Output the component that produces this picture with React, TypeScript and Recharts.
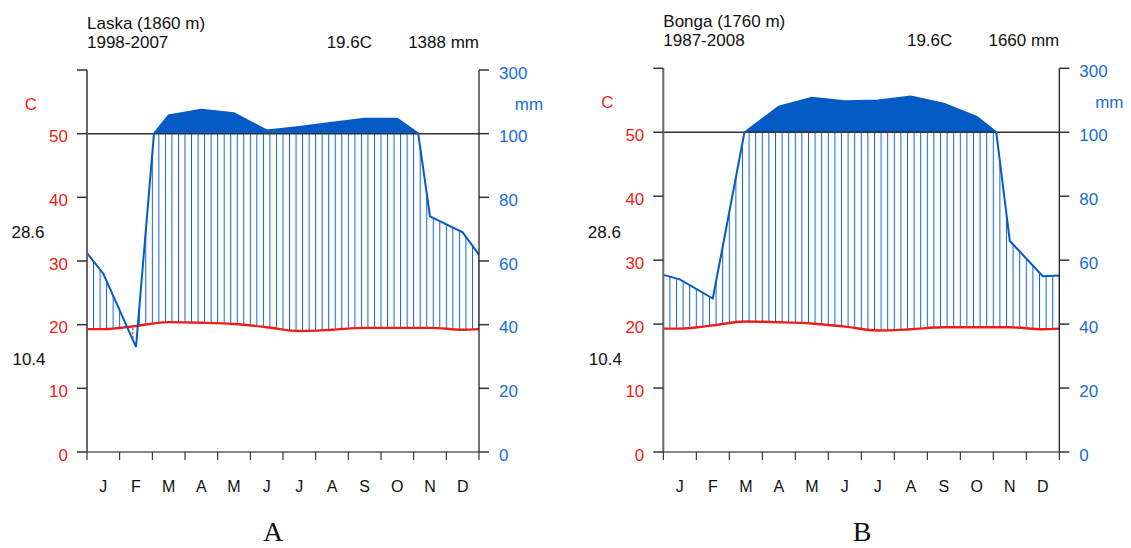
import React from 'react';
import { ComposedChart, Area, Line, XAxis, YAxis, ReferenceLine } from 'recharts';

const MONTHS = ['J', 'F', 'M', 'A', 'M', 'J', 'J', 'A', 'S', 'O', 'N', 'D'];
const MONTH_TICKS = [0, 1, 2, 3, 4, 5, 6, 7, 8, 9, 10, 11, 12];
const Y_TICKS = [0, 10, 20, 30, 40, 50, 60];
const LEFT_LABELS = ['0', '10', '20', '30', '40', '50', ''];
const RIGHT_LABELS = ['0', '20', '40', '60', '80', '100', '300'];

// Laska (1860 m), 1998-2007
const laskaTemp = [19.3, 19.8, 20.4, 20.3, 20.1, 19.6, 19.0, 19.2, 19.5, 19.5, 19.5, 19.2];
const laskaTempEdge = [19.3, 19.3]; // value drawn at the start / end of the year
const laskaRain = [56, 33, 157, 175, 164, 110, 121, 134, 147, 147, 74, 69];
const laskaRainEdge = [62.5, 62];
const laskaWetCross = [2.05, 10.14]; // month position where rain passes 100 mm
const laskaDryX = [1.24, 1.5, 1.56];
const laskaDryRain = [39.2, 33, 39.8];
const laskaDryTemp = [19.6, 19.8, 19.9];

// Bonga (1760 m), 1987-2008
const bongaTemp = [19.3, 19.8, 20.4, 20.3, 20.1, 19.6, 19.0, 19.2, 19.5, 19.5, 19.5, 19.2];
const bongaTempEdge = [19.3, 19.3];
const bongaRain = [54, 48, 102, 180, 208, 197, 199, 212, 189, 148, 66, 55];
const bongaRainEdge = [55.4, 55.2];
const bongaWetCross = [2.46, 10.09];

const RED = '#ee1d16';
const BLUE = '#055bc5';
const BLUE_TEXT = '#1a6dd6';
const FONT = '"Liberation Sans", Arial, sans-serif';

// rain in mm -> temperature scale (20 mm = 10 C, above 100 mm compressed)
const toScale = (mm: number) => (mm <= 100 ? mm / 2 : 50 + (mm - 100) / 20);

interface Plot { l: number; r: number; t: number; b: number }

interface PanelProps {
  id: string;
  left: number;
  width: number;
  plot: Plot;
  title: string;
  years: string;
  meanT: string;
  totalP: string;
  maxT: string;
  minT: string;
  letter: string;
  letterX: number;
  temp: number[];
  tempEdge: number[];
  rain: number[];
  rainEdge: number[];
  wetCross: number[];
  dryX?: number[];
  dryRain?: number[];
  dryTemp?: number[];
}

function ClimatePanel(p: PanelProps) {
  const { plot } = p;
  const plotW = plot.r - plot.l;
  const halfMonth = plotW / 24;

  const tempPoints = [
    { x: 0, t: p.tempEdge[0] },
    ...p.temp.map((t, i) => ({ x: i + 0.5, t })),
    { x: 12, t: p.tempEdge[1] },
  ];
  const rainPoints = [
    { x: 0, mm: p.rainEdge[0] },
    ...p.rain.map((mm, i) => ({ x: i + 0.5, mm })),
    ...p.wetCross.map((x) => ({ x, mm: 100 })),
    { x: 12, mm: p.rainEdge[1] },
  ].sort((a, b) => a.x - b.x);
  const dryPoints = (p.dryX || []).map((x, i) => ({
    x,
    mm: (p.dryRain || [])[i],
    t: (p.dryTemp || [])[i],
  }));

  const xAxisH = 30;
  const yW = 60;

  const MonthTick = (props: any) => {
    const { x, y, payload } = props;
    if (payload.value >= 12) return <g />;
    return (
      <text x={x + halfMonth} y={y + 24} textAnchor="middle" dominantBaseline="central"
        fill="#111" fontSize={16} fontFamily={FONT}>
        {MONTHS[payload.value]}
      </text>
    );
  };
  const LeftTick = (props: any) => {
    const { x, y, payload } = props;
    return (
      <text x={x} y={y + 3} textAnchor="end" dominantBaseline="central"
        fill={RED} fontSize={17} fontFamily={FONT}>
        {LEFT_LABELS[Y_TICKS.indexOf(payload.value)]}
      </text>
    );
  };
  const RightTick = (props: any) => {
    const { x, y, payload } = props;
    return (
      <text x={x} y={y + 3} textAnchor="start" dominantBaseline="central"
        fill={BLUE_TEXT} fontSize={17} fontFamily={FONT}>
        {RIGHT_LABELS[Y_TICKS.indexOf(payload.value)]}
      </text>
    );
  };

  return (
    <div style={{ position: 'absolute', left: p.left, top: 0, width: p.width, height: 548 }}>
      <svg width={0} height={0} style={{ position: 'absolute' }}>
        <defs>
          <pattern id={`hatch-${p.id}`} patternUnits="userSpaceOnUse" x={plot.l - 0.5} y={0}
            width={plotW / 60} height={8}>
            <rect x={0} y={0} width={1} height={8} fill="#1463c8" />
          </pattern>
          <pattern id={`dry-${p.id}`} patternUnits="userSpaceOnUse" x={plot.l - 0.5} y={0}
            width={plotW / 60} height={4}>
            <rect x={0} y={0} width={1.2} height={2.5} fill={RED} />
          </pattern>
        </defs>
      </svg>
      <ComposedChart
        width={p.width}
        height={548}
        margin={{
          top: plot.t,
          bottom: 548 - plot.b - xAxisH,
          left: plot.l - yW,
          right: p.width - plot.r - yW,
        }}
      >
        <XAxis
          dataKey="x"
          type="number"
          domain={[0, 12]}
          ticks={MONTH_TICKS}
          allowDataOverflow
          height={xAxisH}
          tickSize={8}
          tickMargin={2}
          axisLine={{ stroke: '#111', strokeWidth: 1 }}
          tickLine={{ stroke: '#111', strokeWidth: 1 }}
          tick={MonthTick}
          interval={0}
        />
        <YAxis
          yAxisId="L"
          type="number"
          domain={[0, 60]}
          ticks={Y_TICKS}
          allowDataOverflow
          width={yW}
          tickSize={10}
          tickMargin={9}
          axisLine={{ stroke: '#666', strokeWidth: 2 }}
          tickLine={{ stroke: '#333', strokeWidth: 1.5 }}
          tick={LeftTick}
          interval={0}
        />
        <YAxis
          yAxisId="R"
          orientation="right"
          type="number"
          domain={[0, 60]}
          ticks={Y_TICKS}
          allowDataOverflow
          width={yW}
          tickSize={10}
          tickMargin={10}
          axisLine={{ stroke: '#111', strokeWidth: 1.2 }}
          tickLine={{ stroke: '#333', strokeWidth: 1.5 }}
          tick={RightTick}
          interval={0}
        />
        {/* humid season hatching, up to 100 mm */}
        <Area
          yAxisId="L"
          data={rainPoints}
          dataKey={(d: any) => Math.min(toScale(d.mm), 50)}
          type="linear"
          baseValue={0}
          stroke="none"
          fill={`url(#hatch-${p.id})`}
          fillOpacity={1}
          isAnimationActive={false}
        />
        {/* clear hatching below the temperature curve */}
        <Area
          yAxisId="L"
          data={tempPoints}
          dataKey="t"
          type="monotone"
          baseValue={0}
          stroke="none"
          fill="#ffffff"
          fillOpacity={1}
          isAnimationActive={false}
        />
        {dryPoints.length > 0 && (
          <Area
            yAxisId="L"
            data={dryPoints}
            dataKey={(d: any) => [d.mm / 2, d.t]}
            type="linear"
            stroke="none"
            fill={`url(#dry-${p.id})`}
            fillOpacity={1}
            isAnimationActive={false}
          />
        )}
        {/* rain above 100 mm, solid */}
        <Area
          yAxisId="L"
          data={rainPoints}
          dataKey={(d: any) => [50, Math.max(50, toScale(d.mm))]}
          type="linear"
          stroke="none"
          fill={BLUE}
          fillOpacity={1}
          isAnimationActive={false}
        />
        <ReferenceLine yAxisId="L" y={50} stroke="#333" strokeWidth={1.5} />
        <Line
          yAxisId="L"
          data={tempPoints}
          dataKey="t"
          type="monotone"
          stroke={RED}
          strokeWidth={2.4}
          dot={false}
          isAnimationActive={false}
        />
        <Line
          yAxisId="L"
          data={rainPoints}
          dataKey={(d: any) => toScale(d.mm)}
          type="linear"
          stroke={BLUE}
          strokeWidth={2}
          dot={false}
          isAnimationActive={false}
        />
      </ComposedChart>
      <svg width={p.width} height={548}
        style={{ position: 'absolute', left: 0, top: 0, pointerEvents: 'none' }}
        fontFamily={FONT} fontSize={17}>
        <text x={plot.l} y={plot.t - 41} fill="#111">{p.title}</text>
        <text x={plot.l} y={plot.t - 22} fill="#111">{p.years}</text>
        <text x={plot.r - 107} y={plot.t - 22} fill="#111" textAnchor="end">{p.meanT}</text>
        <text x={plot.r} y={plot.t - 22} fill="#111" textAnchor="end">{p.totalP}</text>
        <text x={plot.l - 56} y={plot.t + 40} fill={RED} textAnchor="middle">C</text>
        <text x={plot.r + 50} y={plot.t + 40} fill={BLUE_TEXT} textAnchor="middle">mm</text>
        <text x={plot.l - 59} y={238} fill="#111" textAnchor="middle">{p.maxT}</text>
        <text x={plot.l - 58} y={365} fill="#111" textAnchor="middle">{p.minT}</text>
        <text x={p.letterX} y={541} fill="#111" textAnchor="middle"
          fontFamily='"Liberation Serif", "Times New Roman", serif' fontSize={28}>
          {p.letter}
        </text>
      </svg>
    </div>
  );
}

export default function App() {
  return (
    <div style={{ position: 'absolute', left: 0, top: 0, width: 1131, height: 548, background: '#fff' }}>
      <ClimatePanel
        id="a"
        left={0}
        width={565}
        plot={{ l: 87, r: 479, t: 70, b: 452 }}
        title="Laska (1860 m)"
        years="1998-2007"
        meanT="19.6C"
        totalP="1388 mm"
        maxT="28.6"
        minT="10.4"
        letter="A"
        letterX={273}
        temp={laskaTemp}
        tempEdge={laskaTempEdge}
        rain={laskaRain}
        rainEdge={laskaRainEdge}
        wetCross={laskaWetCross}
        dryX={laskaDryX}
        dryRain={laskaDryRain}
        dryTemp={laskaDryTemp}
      />
      <ClimatePanel
        id="b"
        left={565}
        width={566}
        plot={{ l: 98.3, r: 494.3, t: 68.3, b: 452 }}
        title="Bonga (1760 m)"
        years="1987-2008"
        meanT="19.6C"
        totalP="1660 mm"
        maxT="28.6"
        minT="10.4"
        letter="B"
        letterX={297}
        temp={bongaTemp}
        tempEdge={bongaTempEdge}
        rain={bongaRain}
        rainEdge={bongaRainEdge}
        wetCross={bongaWetCross}
      />
    </div>
  );
}
